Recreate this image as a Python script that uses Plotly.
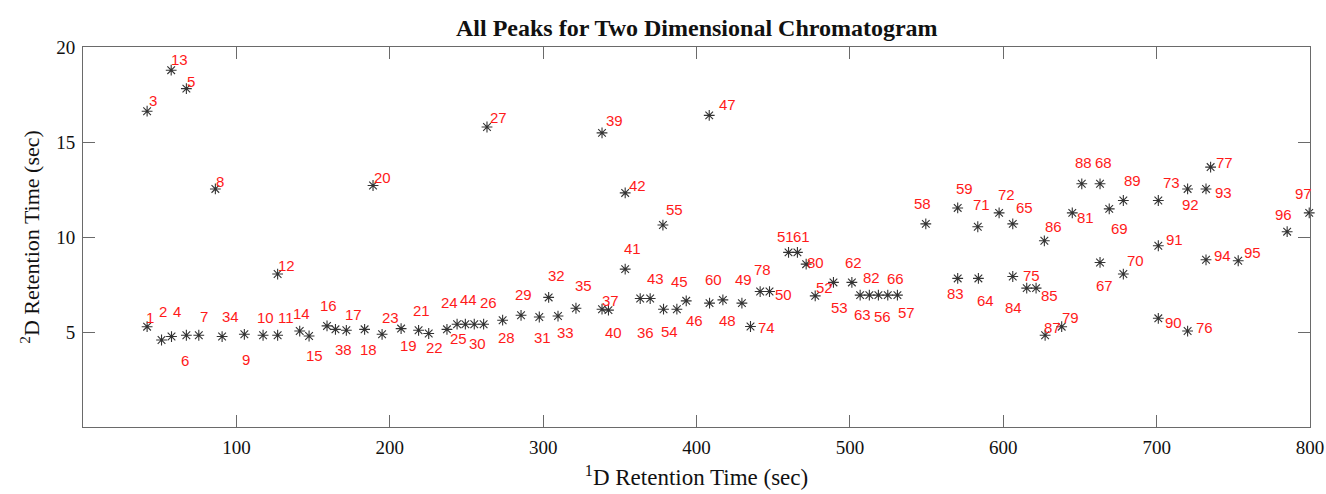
import plotly.graph_objects as go

# Peak numbers
peak_ids = list(range(1, 98))

# 1D retention time (sec) for peaks 1..97
rt1 = [41.8, 51.2, 41.8, 57.7, 67.4, 67.4, 75.5, 86.3, 105.2, 117.4,
       126.9, 126.9, 57.5, 141.3, 147.4, 159.1, 171.7, 183.6, 207.4, 189.1,
       218.8, 225.4, 195.0, 237.3, 243.9, 261.2, 263.4, 273.6, 285.6, 255.1,
       297.5, 303.6, 309.7, 90.7, 321.4, 363.3, 342.6, 164.6, 338.4, 338.4,
       353.5, 353.5, 369.8, 249.3, 387.2, 393.3, 408.3, 417.2, 429.6, 447.6,
       460.0, 477.4, 489.3, 378.5, 378.1, 518.6, 531.0, 549.5, 570.3, 408.5,
       465.8, 501.3, 506.7, 583.8, 606.2, 524.7, 663.1, 663.1, 669.1, 678.3,
       583.4, 597.3, 701.1, 435.2, 615.3, 720.2, 735.2, 441.5, 638.1, 471.5,
       645.0, 512.7, 570.3, 606.2, 621.4, 626.8, 627.3, 651.2, 678.3, 701.1,
       701.1, 720.2, 732.2, 732.2, 753.2, 785.1, 799.5]

# 2D retention time (sec) for peaks 1..97
rt2 = [5.28, 4.58, 16.62, 4.76, 17.81, 4.83, 4.83, 12.53, 4.88, 4.83,
       4.83, 8.05, 18.78, 5.05, 4.79, 5.32, 5.09, 5.14, 5.18, 12.71,
       5.09, 4.92, 4.88, 5.14, 5.41, 5.41, 15.79, 5.62, 5.88, 5.41,
       5.79, 6.82, 5.84, 4.76, 6.25, 6.76, 6.15, 5.14, 15.48, 6.20,
       8.31, 12.32, 6.76, 5.41, 6.20, 6.64, 16.40, 6.69, 6.52, 7.13,
       9.19, 6.90, 7.61, 6.20, 10.63, 6.94, 6.94, 10.69, 11.53, 6.52,
       9.19, 7.61, 6.94, 7.82, 10.69, 6.94, 8.66, 12.80, 11.48, 8.05,
       10.54, 11.27, 11.92, 5.29, 7.31, 5.05, 13.68, 7.13, 5.28, 8.57,
       11.27, 6.94, 7.82, 7.92, 7.31, 9.80, 4.83, 12.80, 11.92, 5.72,
       9.54, 12.53, 12.53, 8.80, 8.75, 10.28, 11.27]

# Label anchor positions (data units) for peaks 1..97
label_x = [44.0, 52.0, 45.5, 61.4, 70.1, 66.3, 79.2, 89.0, 106.4, 118.9,
           132.4, 132.4, 63.1, 142.4, 151.1, 160.2, 176.1, 186.3, 212.3, 195.0,
           220.6, 229.3, 200.4, 238.8, 244.9, 264.1, 270.6, 276.4, 286.9, 256.9,
           299.6, 309.0, 314.4, 96.1, 326.4, 367.0, 344.2, 170.0, 346.6, 345.9,
           358.1, 361.8, 373.1, 251.4, 388.9, 398.7, 420.0, 420.5, 430.6, 456.7,
           457.8, 483.2, 493.2, 382.4, 385.5, 521.5, 537.1, 547.5, 574.7, 411.1,
           468.7, 502.3, 508.4, 588.6, 613.8, 529.5, 665.9, 665.2, 675.5, 685.9,
           585.5, 601.8, 709.4, 445.4, 618.6, 730.9, 744.1, 443.3, 644.0, 477.4,
           653.8, 514.3, 568.6, 606.6, 630.0, 632.7, 632.3, 652.2, 684.4, 710.8,
           711.5, 722.4, 743.4, 743.1, 762.6, 783.0, 795.6]
label_y = [5.78, 6.06, 17.16, 6.06, 18.20, 3.51, 5.84, 12.92, 3.56, 5.76,
           5.76, 8.48, 19.36, 5.99, 3.77, 6.41, 5.93, 4.09, 4.31, 13.12,
           6.11, 4.21, 5.76, 6.55, 4.65, 6.55, 16.27, 4.70, 6.99, 4.39,
           4.70, 7.99, 4.97, 5.79, 7.47, 5.00, 6.64, 4.09, 16.14, 5.00,
           9.37, 12.71, 7.82, 6.69, 7.64, 5.63, 16.97, 5.63, 7.78, 6.95,
           10.05, 7.34, 6.29, 5.05, 11.44, 5.84, 6.02, 11.78, 12.53, 7.75,
           10.05, 8.66, 5.93, 6.67, 11.57, 7.82, 7.47, 13.94, 10.46, 8.75,
           11.69, 12.23, 12.89, 5.23, 7.99, 5.23, 13.91, 8.27, 5.76, 8.66,
           11.04, 7.87, 7.03, 6.29, 6.90, 10.56, 5.23, 13.94, 12.97, 5.50,
           9.86, 11.69, 12.32, 9.05, 9.19, 11.21, 12.27]

x_ticks = [100, 200, 300, 400, 500, 600, 700, 800]
y_ticks = [5, 10, 15, 20]

SERIF = "Liberation Serif, Times New Roman, serif"

fig = go.Figure()
fig.add_trace(go.Scatter(
    x=rt1, y=rt2, mode="markers",
    marker=dict(symbol="asterisk-open", size=9,
                line=dict(color="#333333", width=1.1), color="#333333"),
    showlegend=False, hoverinfo="x+y", cliponaxis=False,
))

annotations = []
for pid, lx, ly in zip(peak_ids, label_x, label_y):
    annotations.append(dict(
        x=lx, y=ly, text=str(pid), showarrow=False,
        xanchor="center", yanchor="middle",
        font=dict(family="Liberation Sans, Arial, sans-serif", size=15, color="#ff1a1a"),
    ))

axis_common = dict(
    showline=True, linecolor="#6a6a6a", linewidth=1, mirror="ticks",
    ticks="inside", ticklen=12, tickcolor="#6a6a6a", tickwidth=1,
    showgrid=False, zeroline=False, automargin=False,
    tickfont=dict(family=SERIF, size=19, color="#111111"),
)

fig.update_layout(
    width=1326, height=494,
    margin=dict(l=83, r=16, t=47, b=67),
    paper_bgcolor="white", plot_bgcolor="white",
    title=dict(text="<b>All Peaks for Two Dimensional Chromatogram</b>",
               x=0.5255, xanchor="center", y=0.945, yanchor="middle",
               font=dict(family=SERIF, size=24, color="#111111")),
    xaxis=dict(range=[0, 800], tickvals=x_ticks, ticklabelstandoff=3,
               title=dict(text="<sup>1</sup>D Retention Time (sec)", standoff=12,
                          font=dict(family=SERIF, size=23, color="#111111")),
               **axis_common),
    yaxis=dict(range=[0, 20], tickvals=y_ticks, ticklabelstandoff=3,
               title=dict(text="<sup>2</sup>D Retention Time (sec)", standoff=10,
                          font=dict(family=SERIF, size=22, color="#111111")),
               **axis_common),
    annotations=annotations,
)

fig.write_html("out.html")
